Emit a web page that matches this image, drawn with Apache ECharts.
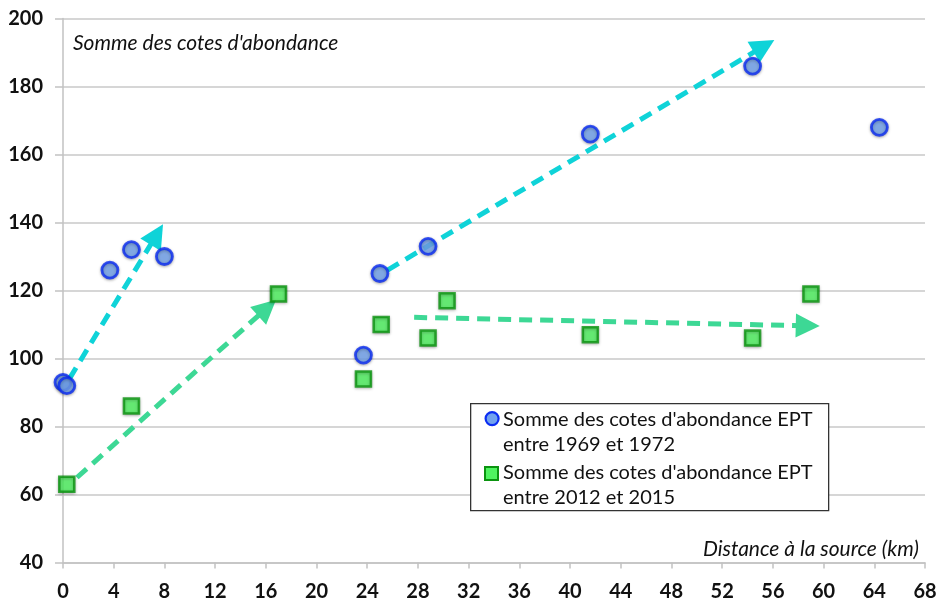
<!DOCTYPE html>
<html><head><meta charset="utf-8">
<script src="https://cdn.jsdelivr.net/npm/echarts@6/dist/echarts.min.js"></script>
<style>html,body{margin:0;padding:0;background:#fff}#c{width:937px;height:598px}</style>
</head><body><div id="c"></div>
<script>
// ---- data ----
const xMin = 0, xMax = 68, xStep = 4;
const yMin = 40, yMax = 200, yStep = 20;
const nameOld = "Somme des cotes d'abondance EPT\nentre 1969 et 1972";
const nameNew = "Somme des cotes d'abondance EPT\nentre 2012 et 2015";
const oldX = [0, 0.3, 3.7, 5.4, 8.0, 23.7, 25.0, 28.8, 41.6, 54.4, 64.4];
const oldY = [93, 92, 126, 132, 130, 101, 125, 133, 166, 186, 168];
const newX = [0.3, 5.4, 17.0, 23.7, 25.1, 28.8, 30.3, 41.6, 54.4, 59.0];
const newY = [63, 86, 119, 94, 110, 106, 117, 107, 106, 119];
// trend arrows: [startX, startY, arrow-head X, arrow-head Y]
const cyanArrows = [[0.5, 94, 7.4, 136.5], [25.6, 126, 55.3, 191.9]];
const greenArrows = [[1.1, 65, 16.1, 114.9], [27.7, 112.1, 58.75, 109.6]];
const yTitle = "Somme des cotes d'abondance";
const xTitle = "Distance à la source (km)";

const FONT = 'Lato';
const zip = (xs, ys) => xs.map((x, i) => [x, ys[i]]);
const arrowLines = arr => arr.map(a => [{coord: [a[0], a[1]]}, {coord: [a[2], a[3]]}]);

const chart = echarts.init(document.getElementById('c'));
const markerShadow = {shadowBlur: 3, shadowColor: 'rgba(0,0,0,0.35)', shadowOffsetY: 1};
const arrowMark = color => ({
  silent: true, symbol: ['none', 'triangle'], symbolSize: 24,
  label: {show: false}, emphasis: {disabled: true},
  itemStyle: {color: color},
  lineStyle: {color: color, width: 5, type: [13, 8]}
});
chart.setOption({
  animation: false,
  backgroundColor: '#fff',
  grid: {left: 63, right: 12, top: 18.5, bottom: 35.5, containLabel: false, outerBoundsMode: 'none'},
  xAxis: {
    type: 'value', min: xMin, max: xMax, interval: xStep,
    name: xTitle, nameLocation: 'end', nameGap: 0,
    nameTextStyle: {fontFamily: FONT, fontStyle: 'italic', fontSize: 21, color: '#111',
      align: 'right', verticalAlign: 'bottom', padding: [0, 6, 3, 0]},
    axisLine: {show: true, lineStyle: {color: '#c2c2c2', width: 1.5}},
    axisTick: {show: true, length: 6, lineStyle: {color: '#c2c2c2', width: 1.5}},
    axisLabel: {margin: 19, fontFamily: FONT, fontWeight: 'bold', fontSize: 20, color: '#111'},
    splitLine: {show: false}
  },
  yAxis: {
    type: 'value', min: yMin, max: yMax, interval: yStep,
    name: yTitle, nameLocation: 'end', nameGap: -14,
    nameTextStyle: {fontFamily: FONT, fontStyle: 'italic', fontSize: 21, color: '#111',
      align: 'left', verticalAlign: 'top', padding: [0, 0, 0, 10]},
    axisLine: {show: true, lineStyle: {color: '#c2c2c2', width: 1.5}},
    axisTick: {show: true, length: 8, lineStyle: {color: '#c2c2c2', width: 1.5}},
    axisLabel: {margin: 20, fontFamily: FONT, fontWeight: 'bold', fontSize: 20, color: '#111'},
    splitLine: {show: true, lineStyle: {color: '#c8c8c8', width: 1.5}}
  },
  series: [
    {
      name: 'trendsCyan', type: 'scatter', data: [], silent: true, z: 3,
      markLine: Object.assign(arrowMark('#0fd3d8'), {data: arrowLines(cyanArrows)})
    },
    {
      name: 'trendsGreen', type: 'scatter', data: [], silent: true, z: 3,
      markLine: Object.assign(arrowMark('#3dd895'), {data: arrowLines(greenArrows)})
    },
    {
      name: nameOld, type: 'scatter', data: zip(oldX, oldY), symbol: 'circle', symbolSize: 16, z: 5,
      itemStyle: Object.assign({color: '#72a2ee', borderColor: '#0b2df2', borderWidth: 2.8}, markerShadow)
    },
    {
      name: nameNew, type: 'scatter', data: zip(newX, newY), symbol: 'rect', symbolSize: 15, z: 5,
      itemStyle: Object.assign({color: '#4ff460', borderColor: '#0b9410', borderWidth: 2.5}, markerShadow)
    }
  ],
  graphic: [
    {type: 'rect', left: 470, top: 403, z: 20,
      shape: {width: 358, height: 107}, style: {fill: '#fff', stroke: '#333', lineWidth: 1.3}},
    {type: 'circle', left: 484.5, top: 411, z: 21,
      shape: {r: 6.5}, style: {fill: '#72a2ee', stroke: '#0b2df2', lineWidth: 2.2}},
    {type: 'rect', left: 484, top: 466, z: 21,
      shape: {width: 13, height: 13}, style: {fill: '#4ff460', stroke: '#0b9410', lineWidth: 2}},
    {type: 'text', left: 503, top: 407.5, z: 21,
      style: {text: nameOld, fontFamily: FONT, fontSize: 20, fill: '#111', lineHeight: 25}},
    {type: 'text', left: 503, top: 460.5, z: 21,
      style: {text: nameNew, fontFamily: FONT, fontSize: 20, fill: '#111', lineHeight: 25}}
  ]
});
</script></body></html>
